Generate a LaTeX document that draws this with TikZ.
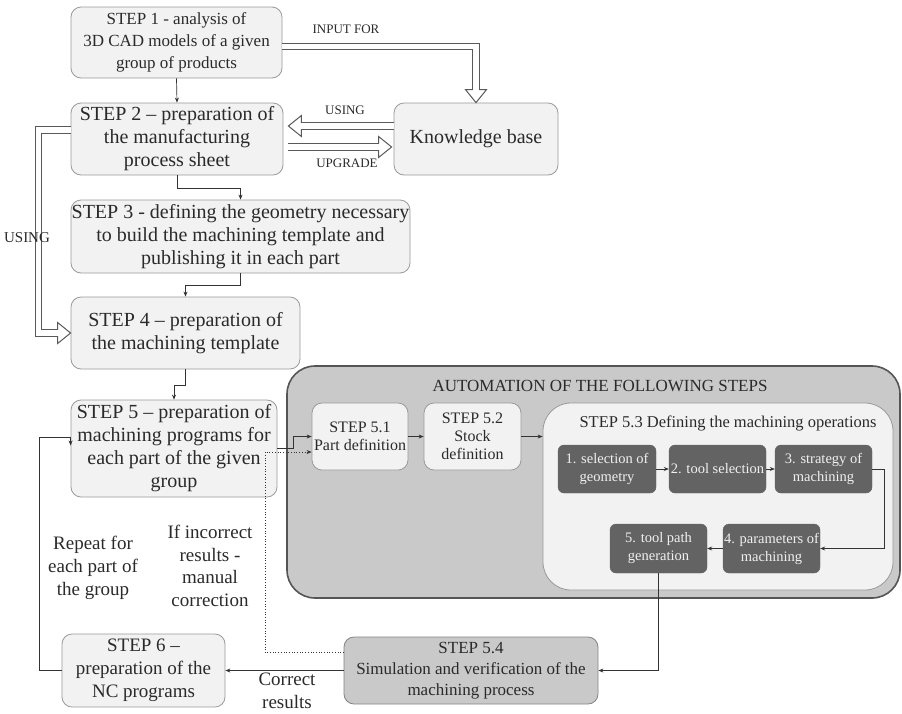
\documentclass[tikz,border=0pt]{standalone}
\usepackage{fontspec}
\setmainfont{Liberation Serif}
\usetikzlibrary{arrows.meta,calc}
\definecolor{boxfill}{HTML}{F2F2F2}
\definecolor{boxdraw}{HTML}{9A9A9A}
\definecolor{autofill}{HTML}{C9C9C9}
\definecolor{autodraw}{HTML}{555555}
\definecolor{darkfill}{HTML}{636363}
\definecolor{txt}{HTML}{2A2A2A}
\definecolor{lineC}{HTML}{333333}
\definecolor{dblC}{HTML}{5A5A5A}
\newcommand{\bahead}[2]{%
  \fill[white,shift={(#1)},rotate=#2] (0,0) -- (-13pt,10.5pt) -- (-13pt,-10.5pt) -- cycle;
  \draw[dblC,line width=1pt,line join=miter,shift={(#1)},rotate=#2] (-13pt,3.2pt) -- (-13pt,10.5pt) -- (0,0) -- (-13pt,-10.5pt) -- (-13pt,-3.2pt);}
\newcommand{\fs}[2]{\fontsize{#1}{#2}\selectfont}
\begin{document}
\begin{tikzpicture}[x=1pt,y=-1pt,
  stepbox/.style={draw=boxdraw,fill=boxfill,rounded corners=10pt,line width=0.8pt,
    inner sep=0pt,align=center,text=txt},
  darkbox/.style={draw=darkfill,fill=darkfill,rounded corners=6pt,inner sep=0pt,
    align=center,text=white!94!black,font=\fs{14.5}{18}},
  arr/.style={draw=lineC,line width=0.7pt,-{Stealth[length=5pt,width=4pt]}},
  dotarr/.style={draw=lineC,line width=0.7pt,dotted,-{Stealth[length=5pt,width=4pt]}},
  dbl/.style={draw=dblC,double=white,double distance=5.4pt,line width=1pt,line join=miter},
  lbl/.style={text=txt,align=center,inner sep=0pt}]
\useasboundingbox (0,0) rectangle (902,713);
% automation background
\node[draw=autodraw,fill=autofill,line width=1.6pt,rounded corners=28pt,minimum width=613pt,minimum height=232pt] (auto) at (593.5,482) {};
\node[lbl,font=\fs{17}{20}] (autot) at (600,386) {AUTOMATION OF THE FOLLOWING STEPS};
\node[draw=boxdraw,fill=boxfill,line width=0.8pt,rounded corners=28pt,minimum width=350pt,minimum height=187pt] (S53) at (718,496.5) {};
\node[lbl,font=\fs{16.5}{20}] (S53t) at (728,423) {STEP 5.3 Defining the machining operations};
% main steps
\node[stepbox,font=\fs{17}{22},minimum width=211pt,minimum height=71pt] (S1) at (176.5,42.5) {STEP 1 - analysis of\\3D CAD models of a given\\group of products};
\node[stepbox,font=\fs{20}{23},minimum width=212pt,minimum height=72pt] (S2) at (177,139) {STEP 2 -- preparation of\\the manufacturing\\process sheet};
\node[stepbox,font=\fs{20}{23},minimum width=164pt,minimum height=72pt] (KB) at (476,139) {Knowledge base};
\node[stepbox,font=\fs{20}{23},minimum width=339pt,minimum height=73pt] (S3) at (240.5,236.5) {STEP 3 - defining the geometry necessary\\to build the machining template and\\publishing it in each part};
\node[stepbox,font=\fs{20}{23},minimum width=229pt,minimum height=72pt] (S4) at (185.5,333) {STEP 4 -- preparation of\\the machining template};
\node[stepbox,font=\fs{20}{23},minimum width=206pt,minimum height=97pt] (S5) at (174,448.5) {STEP 5 -- preparation of\\machining programs for\\each part of the given\\group};
\node[stepbox,font=\fs{19}{23},minimum width=163pt,minimum height=73pt] (S6) at (143.5,670.5) {STEP 6 --\\preparation of the\\NC programs};
\node[stepbox,font=\fs{16}{18},minimum width=96pt,minimum height=67pt] (S51) at (360,436.5) {STEP 5.1\\Part definition};
\node[stepbox,font=\fs{16}{18},minimum width=97pt,minimum height=67pt] (S52) at (472.5,436.5) {STEP 5.2\\Stock\\definition};
\node[darkbox,minimum width=98pt,minimum height=48pt] (D1) at (607,469) {1. selection of\\geometry};
\node[darkbox,minimum width=97pt,minimum height=48pt] (D2) at (717.5,469) {2. tool selection};
\node[darkbox,minimum width=97pt,minimum height=48pt] (D3) at (823.5,469) {3. strategy of\\machining};
\node[darkbox,minimum width=97pt,minimum height=49pt] (D4) at (771.5,548.5) {4. parameters of\\machining};
\node[darkbox,minimum width=97pt,minimum height=49pt] (D5) at (658.5,548.5) {5. tool path\\generation};
\node[stepbox,fill=autofill,draw=boxdraw!85!black,font=\fs{17}{21},minimum width=254pt,minimum height=67pt] (S54) at (471,670.5) {STEP 5.4\\Simulation and verification of the\\machining process};
% simple connectors
\draw[arr] (S1.south) -- (S2.north);
\draw[arr] (S2.south) -- ++(0,13) -| (S3.north);
\draw[arr] (S3.south) -- ++(0,12) -| (S4.north);
\draw[arr] (S4.south) -- ++(0,16) -| (S5.north);
\draw[arr] (S5.east) -- ++(16,0) |- (S51.west);
\draw[arr] (S51.east) -- (S52.west);
\draw[arr] (S52.east) -- (S52.east -| S53.west);
\draw[arr] (D1.east) -- (D2.west);
\draw[arr] (D2.east) -- (D3.west);
\draw[arr] (D3.east) -- ++(12,0) |- (D4.east);
\draw[arr] (D4.west) -- (D5.east);
\draw[arr] (D5.south) |- (S54.east);
\draw[arr] (S54.west) -- (S6.east);
\coordinate (dturn) at (265,452);
\draw[dotarr] ([yshift=18pt]S54.west) -| (dturn) -- (dturn -| S51.west);
\coordinate (rcorner) at ([yshift=11pt]S5.west);
\draw[arr] (S6.west) -- ++(-22,0) |- (rcorner) -- ++(0,8);
% block arrows
\draw[dbl] ([yshift=-4pt]S1.east) -| ([yshift=13pt]KB.north);
\bahead{KB.north}{-90}
\draw[dbl] ([yshift=13pt]KB.west) -- ([xshift=18pt,yshift=13pt]S2.east);
\bahead{$(S2.east)+(5pt,13pt)$}{180}
\draw[dbl] ([xshift=5pt,yshift=-8pt]S2.east) -- ([xshift=-15pt,yshift=-8pt]KB.west);
\bahead{$(KB.west)+(-2pt,-8pt)$}{0}
\draw[dbl] ([yshift=9pt]S2.west) -- ++(-32,0) |- ([xshift=-13pt]S4.west);
\bahead{S4.west}{0}
% labels
\node[lbl,font=\fs{13}{15}] (linput) at (346,29) {INPUT FOR};
\node[lbl,font=\fs{13}{15}] (lusing) at (345,110) {USING};
\node[lbl,font=\fs{13}{15}] (lupg) at (347,163) {UPGRADE};
\node[lbl,font=\fs{15}{17}] (lusing2) at (27,238) {USING};
\node[lbl,font=\fs{19}{23}] (lrep) at (93,568) {Repeat for\\each part of\\the group};
\node[lbl,font=\fs{19}{22.5}] (linc) at (210,566) {If incorrect\\results -\\manual\\correction};
\node[lbl,font=\fs{19}{23}] (lcor) at (287,691) {Correct\\results};
\end{tikzpicture}
\end{document}
